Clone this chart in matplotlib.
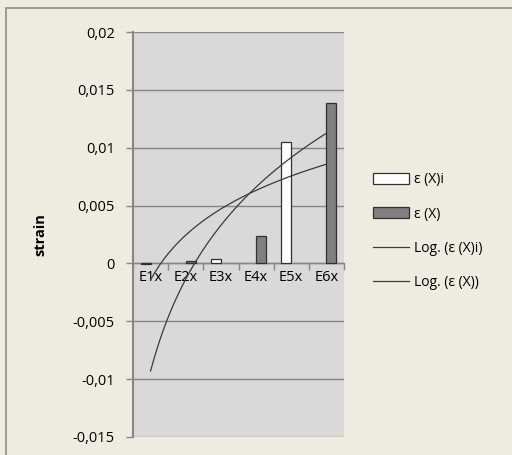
import numpy as np
import matplotlib
matplotlib.use("Agg")
import matplotlib.pyplot as plt
from matplotlib.ticker import FuncFormatter, FixedLocator
from matplotlib.patches import Rectangle

plt.rcParams['font.family'] = ['Open Sans', 'DejaVu Sans']

categories = ['E1x', 'E2x', 'E3x', 'E4x', 'E5x', 'E6x']
# ε (X)i  (white) and ε (X) (gray); missing values are nan
eps_xi = [-0.00005, np.nan, 0.0004, np.nan, 0.0105, np.nan]
eps_x = [np.nan, 0.0002, np.nan, 0.0024, np.nan, 0.0139]
yticks = [-0.015, -0.01, -0.005, 0, 0.005, 0.01, 0.015, 0.02]

fig = plt.figure(figsize=(5.12, 4.55), dpi=100)
fig.patch.set_facecolor('#EEECE1')
# chart border (cut by the image on right/bottom)
fig.add_artist(Rectangle((6 / 512, -0.1), 1.2, 1 - 8 / 455 + 0.1, transform=fig.transFigure,
                         fill=False, edgecolor='#8C8C8C', lw=1.2))

ax = fig.add_axes([133 / 512, 18 / 455, 211 / 512, 405 / 455])
ax.set_facecolor('#D9D9D9')

x = np.arange(len(categories))
w = 0.285
ax.bar(x - w / 2, eps_xi, w, color='white', edgecolor='#303030', lw=0.9, zorder=3,
       label='ε (X)i')
ax.bar(x + w / 2, eps_x, w, color='#808080', edgecolor='#303030', lw=0.9, zorder=3,
       label='ε (X)')

# logarithmic trend lines (Excel style: y = a ln(x) + b, x = 1..n)
xs = np.linspace(1, len(categories), 200)
for vals, lab in [(eps_xi, 'Log. (ε (X)i)'), (eps_x, 'Log. (ε (X))')]:
    v = np.array(vals)
    m = ~np.isnan(v)
    a, b = np.polyfit(np.log(x[m] + 1), v[m], 1)
    ax.plot(xs - 1, a * np.log(xs) + b, color='#3A3A3A', lw=0.9, zorder=4, label=lab)

ax.set_xlim(-0.5, len(categories) - 0.5)
ax.set_ylim(-0.015, 0.02)
ax.set_yticks(yticks)
ax.yaxis.set_major_formatter(FuncFormatter(lambda v, p: ('%g' % v).replace('.', ',')))
ax.grid(axis='y', color='#868686', lw=1.0, zorder=1)
ax.set_axisbelow(True)

for s in ['top', 'right']:
    ax.spines[s].set_visible(False)
ax.spines['left'].set_color('#868686')
ax.spines['left'].set_linewidth(1.5)
ax.spines['bottom'].set_position(('data', 0))
ax.spines['bottom'].set_color('#868686')
ax.spines['bottom'].set_linewidth(1.0)
ax.spines['bottom'].set_zorder(2)

ax.set_xticks(x)
ax.set_xticklabels(categories)
ax.xaxis.set_minor_locator(FixedLocator(np.arange(-0.5, len(categories), 1.0)))
ax.tick_params(axis='x', which='major', length=0, pad=5, labelsize=10.5, colors='black')
ax.tick_params(axis='x', which='minor', length=5, direction='out', color='#868686', width=1)
ax.tick_params(axis='y', length=5, color='#868686', width=1, pad=8, labelsize=10.5)

ax.set_ylabel('strain', fontsize=10.5, fontweight='bold', labelpad=18)

handles, labels = ax.get_legend_handles_labels()
order = [2, 3, 0, 1]
ax.legend([handles[i] for i in order], [labels[i] for i in order],
          loc='center left', bbox_to_anchor=(1.11, 0.508), frameon=False, fontsize=10,
          handlelength=2.6, handleheight=0.8, labelspacing=1.4, handletextpad=0.35,
          borderaxespad=0)

fig.savefig('out.png', dpi=100, facecolor=fig.get_facecolor())
